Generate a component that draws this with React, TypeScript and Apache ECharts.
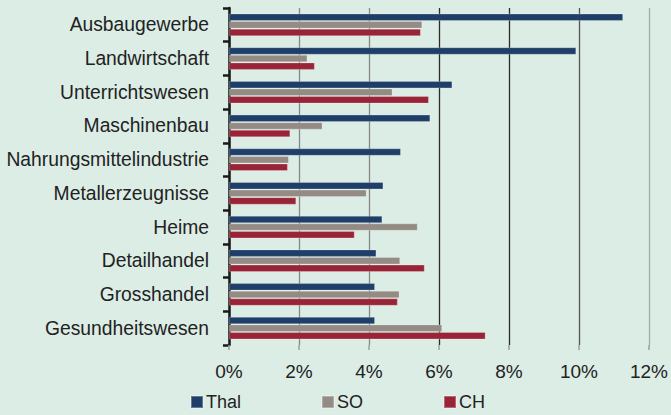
import React, { useEffect, useRef } from "react";
import * as echarts from "echarts";

const categories = [
  "Ausbaugewerbe",
  "Landwirtschaft",
  "Unterrichtswesen",
  "Maschinenbau",
  "Nahrungsmittelindustrie",
  "Metallerzeugnisse",
  "Heime",
  "Detailhandel",
  "Grosshandel",
  "Gesundheitswesen",
];
const thal = [11.26, 9.92, 6.38, 5.75, 4.91, 4.41, 4.38, 4.21, 4.17, 4.17];
const so = [5.52, 2.24, 4.67, 2.67, 1.71, 3.93, 5.39, 4.89, 4.87, 6.09];
const ch = [5.48, 2.45, 5.71, 1.75, 1.68, 1.92, 3.59, 5.59, 4.82, 7.33];
const xTicks = { min: 0, max: 12, interval: 2 };

const FONT = "Liberation Sans";

export default function App() {
  const ref = useRef<HTMLDivElement>(null);
  useEffect(() => {
    if (!ref.current) return;
    const chart = echarts.init(ref.current, null, { renderer: "svg" });
    const barStyle = (color: string) => ({
      type: "bar" as const,
      barWidth: 7.3,
      barGap: "4%",
      itemStyle: { color, borderColor: "rgba(255,255,255,0.3)", borderWidth: 0.8 },
    });
    chart.setOption({
      animation: false,
      backgroundColor: "#dcede6",
      textStyle: { fontFamily: FONT },
      grid: { left: 229, right: 22, top: 8, bottom: 70, containLabel: false },
      legend: {
        left: 190,
        top: 393,
        padding: 0,
        itemWidth: 12,
        itemHeight: 12,
        itemGap: 80,
        icon: "rect",
        textStyle: { fontSize: 18, color: "#222", fontFamily: FONT, padding: [0, 0, 0, -2] },
        data: ["Thal", "SO", "CH"],
      },
      xAxis: {
        type: "value",
        min: xTicks.min,
        max: xTicks.max,
        interval: xTicks.interval,
        axisLine: { show: false },
        axisTick: { show: true, length: 5, lineStyle: { color: "#9aa09d", width: 1.5 } },
        axisLabel: {
          formatter: (v: number) => `${v}%`,
          fontSize: 19,
          color: "#222",
          margin: 17,
          fontFamily: FONT,
        },
        splitLine: {
          show: true,
          lineStyle: {
            color: ["#222", "#878787", "#878787", "#2c2c2c", "#2c2c2c", "#555", "#a3aaa6"],
            width: 1.3,
          },
        },
      },
      yAxis: {
        type: "category",
        inverse: true,
        data: categories,
        axisLine: { show: true, lineStyle: { color: "#1a1a1a", width: 2.5 } },
        axisTick: { show: true, length: 6, lineStyle: { color: "#1a1a1a", width: 2.5 } },
        axisLabel: { fontSize: 19.3, color: "#222", margin: 20, fontFamily: FONT },
      },
      series: [
        { name: "Thal", data: thal, ...barStyle("#1f3f69") },
        { name: "SO", data: so, ...barStyle("#948b85") },
        { name: "CH", data: ch, ...barStyle("#9a2437") },
      ],
    });
    return () => chart.dispose();
  }, []);
  return (
    <div
      ref={ref}
      style={{ position: "fixed", left: 0, top: 0, width: 671, height: 415 }}
    />
  );
}
